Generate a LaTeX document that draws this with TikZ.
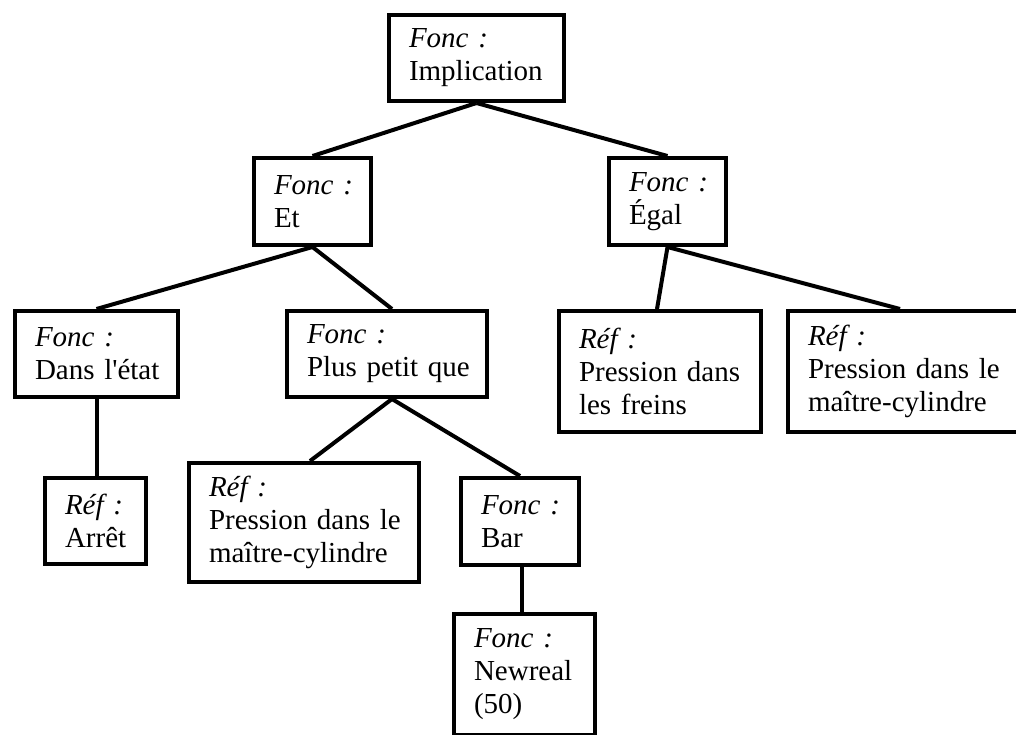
\documentclass[tikz,border=0pt]{standalone}
\usepackage{fontspec}
\setmainfont{Liberation Serif}
\newcommand{\bl}[1]{\mbox{#1}}
\tikzset{
  box/.style={draw, line width=4pt, rectangle, align=left, inner xsep=20pt, inner ysep=0pt,
    font=\fontsize{29}{33}\selectfont},
  edge/.style={line width=4pt},
}
\begin{document}
\begin{tikzpicture}[x=1pt, y=-1pt]
\useasboundingbox (0,0) rectangle (1016,734);
\fill[white] (0,0) rectangle (1016,734);
\clip (0,0) rectangle (1016,734);
\node[box, text width=135pt, minimum height=86pt] (impl) at (476.5,58) {\bl{\textit{Fonc :}}\\\bl{Implication}};
\node[box, text width=77pt, minimum height=87pt] (et) at (312.5,201.5) {\bl{\textit{Fonc :}}\\\bl{Et}};
\node[box, text width=77pt, minimum height=87pt] (egal) at (667.5,201.5) {\bl{\textit{Fonc :}}\\\bl{Égal}};
\node[box, text width=123pt, minimum height=86pt] (dans) at (96.5,354) {\bl{\textit{Fonc :}}\\\bl{Dans l\textquotesingle état}};
\node[box, text width=160pt, minimum height=86pt] (plus) at (387,354) {\bl{\textit{Fonc :}}\\\bl{Plus petit que}};
\node[box, text width=162pt, minimum height=121pt] (freins) at (660,371.5) {\bl{\textit{Réf :}}\\\bl{Pression dans}\\\bl{les freins}};
\node[box, text width=200pt, minimum height=121pt] (mcr) at (908,371.5) {\bl{\textit{Réf :}}\\\bl{Pression dans le}\\\bl{maître-cylindre}};
\node[box, text width=61pt, minimum height=86pt] (arret) at (95.5,521) {\bl{\textit{Réf :}}\\\bl{Arrêt}};
\node[box, text width=190pt, minimum height=119pt] (pmc) at (304,522.5) {\bl{\textit{Réf :}}\\\bl{Pression dans le}\\\bl{maître-cylindre}};
\node[box, text width=78pt, minimum height=87pt] (bar) at (520,521.5) {\bl{\textit{Fonc :}}\\\bl{Bar}};
\node[box, text width=101pt, minimum height=121pt] (newreal) at (524.5,674.5) {\bl{\textit{Fonc :}}\\\bl{Newreal}\\\bl{(50)}};
\draw[edge] (impl.south) -- (et.north);
\draw[edge] (impl.south) -- (egal.north);
\draw[edge] (et.south) -- (dans.north);
\draw[edge] (et.south) -- ([xshift=5pt]plus.north);
\draw[edge] (egal.south) -- ([xshift=-3pt]freins.north);
\draw[edge] (egal.south) -- ([xshift=-8pt]mcr.north);
\draw[edge] (dans.south) -- (dans.south |- arret.north);
\draw[edge] ([xshift=5pt]plus.south) -- ([xshift=6pt]pmc.north);
\draw[edge] ([xshift=5pt]plus.south) -- (bar.north);
\draw[edge] ([xshift=2pt]bar.south) -- ([xshift=2pt]bar.south |- newreal.north);
\end{tikzpicture}
\end{document}
